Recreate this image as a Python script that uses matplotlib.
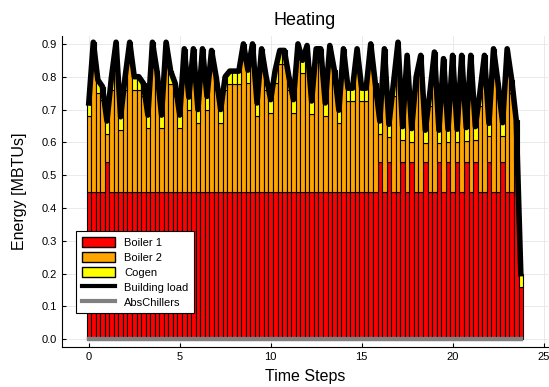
import matplotlib.pyplot as plt
import numpy as np
from matplotlib.patches import Patch
from matplotlib.lines import Line2D

plt.rcParams['font.family'] = ['Liberation Sans', 'DejaVu Sans']

# time steps in hours (15 min resolution)
time_steps = np.arange(0, 24, 0.25)

boiler1 = [0.45, 0.45, 0.45, 0.45, 0.54, 0.45, 0.45, 0.45, 0.45, 0.45, 0.45, 0.45,
           0.45, 0.45, 0.45, 0.45, 0.45, 0.45, 0.45, 0.45, 0.45, 0.45, 0.45, 0.45,
           0.45, 0.45, 0.45, 0.45, 0.45, 0.45, 0.45, 0.45, 0.45, 0.45, 0.45, 0.45,
           0.45, 0.45, 0.45, 0.45, 0.45, 0.45, 0.45, 0.45, 0.45, 0.45, 0.45, 0.45,
           0.45, 0.45, 0.45, 0.45, 0.45, 0.45, 0.45, 0.45, 0.45, 0.45, 0.45, 0.45,
           0.45, 0.45, 0.45, 0.45, 0.54, 0.45, 0.54, 0.45, 0.45, 0.54, 0.45, 0.54,
           0.45, 0.45, 0.54, 0.45, 0.45, 0.54, 0.45, 0.54, 0.45, 0.54, 0.45, 0.54,
           0.45, 0.54, 0.45, 0.45, 0.54, 0.45, 0.45, 0.54, 0.45, 0.45, 0.54, 0.158]

cogen = [0.04] * 96

building_load = [0.72, 0.905, 0.79, 0.77, 0.665, 0.80, 0.905, 0.678, 0.80, 0.905, 0.80, 0.80,
                 0.78, 0.683, 0.905, 0.817, 0.683, 0.905, 0.817, 0.78, 0.683, 0.885, 0.738, 0.885,
                 0.70, 0.885, 0.74, 0.88, 0.80, 0.70, 0.80, 0.817, 0.817, 0.817, 0.90, 0.82,
                 0.90, 0.72, 0.885, 0.80, 0.73, 0.82, 0.88, 0.88, 0.80, 0.73, 0.90, 0.85,
                 0.895, 0.726, 0.885, 0.885, 0.72, 0.895, 0.82, 0.698, 0.885, 0.765, 0.765, 0.885,
                 0.765, 0.765, 0.90, 0.78, 0.665, 0.885, 0.655, 0.78, 0.905, 0.648, 0.865, 0.642,
                 0.80, 0.865, 0.637, 0.75, 0.875, 0.637, 0.855, 0.64, 0.865, 0.64, 0.865, 0.645,
                 0.865, 0.648, 0.75, 0.865, 0.658, 0.885, 0.78, 0.66, 0.885, 0.79, 0.667, 0.20]

abs_chillers = [0.0] * 96

boiler1 = np.array(boiler1)
cogen = np.array(cogen)
building_load = np.array(building_load)
boiler2 = building_load - boiler1 - cogen

fig = plt.figure(figsize=(5.49, 3.87), dpi=100)
ax = fig.add_axes([0.113, 0.103, 0.885, 0.804])

w = 0.25
ax.bar(time_steps, boiler1, width=w, color='#FF0000', edgecolor='black', linewidth=0.8, zorder=2)
ax.bar(time_steps, boiler2, width=w, bottom=boiler1, color='#FFA500', edgecolor='black', linewidth=0.8, zorder=2)
ax.bar(time_steps, cogen, width=w, bottom=boiler1 + boiler2, color='#FFFF00', edgecolor='black', linewidth=0.8, zorder=2)
ax.plot(time_steps, building_load, color='black', linewidth=4.0, solid_joinstyle='round', zorder=3)
ax.plot(time_steps, abs_chillers, color='#808080', linewidth=3.2, zorder=3)

ax.set_xlim(-1.47, 25.24)
ax.set_ylim(-0.024, 0.924)
ax.set_xticks([0, 5, 10, 15, 20, 25])
ax.set_yticks(np.arange(0, 0.91, 0.1))
ax.set_yticklabels(['0.0', '0.1', '0.2', '0.3', '0.4', '0.5', '0.6', '0.7', '0.8', '0.9'])
ax.tick_params(direction='in', length=3, labelsize=8, color='black')
ax.grid(True, color='#e6e6e6', linewidth=0.6, zorder=0)
ax.set_axisbelow(True)
for s in ['top', 'right']:
    ax.spines[s].set_visible(False)

ax.set_title('Heating', fontsize=13, pad=8)
ax.set_xlabel('Time Steps', fontsize=11.5, labelpad=5)
ax.set_ylabel('Energy [MBTUs]', fontsize=11.5, labelpad=11)

handles = [Patch(facecolor='#FF0000', edgecolor='black', label='Boiler 1'),
           Patch(facecolor='#FFA500', edgecolor='black', label='Boiler 2'),
           Patch(facecolor='#FFFF00', edgecolor='black', label='Cogen'),
           Line2D([0], [0], color='black', linewidth=3, label='Building load'),
           Line2D([0], [0], color='#808080', linewidth=3, label='AbsChillers')]
leg = ax.legend(handles=handles, loc='lower left', bbox_to_anchor=(0.029, 0.109), borderaxespad=0,
                fontsize=8, fancybox=False, framealpha=1, edgecolor='black',
                handlelength=3.0, handleheight=1.1, labelspacing=0.35, borderpad=0.5)
leg.get_frame().set_linewidth(0.8)

fig.savefig('out.png', dpi=100)
